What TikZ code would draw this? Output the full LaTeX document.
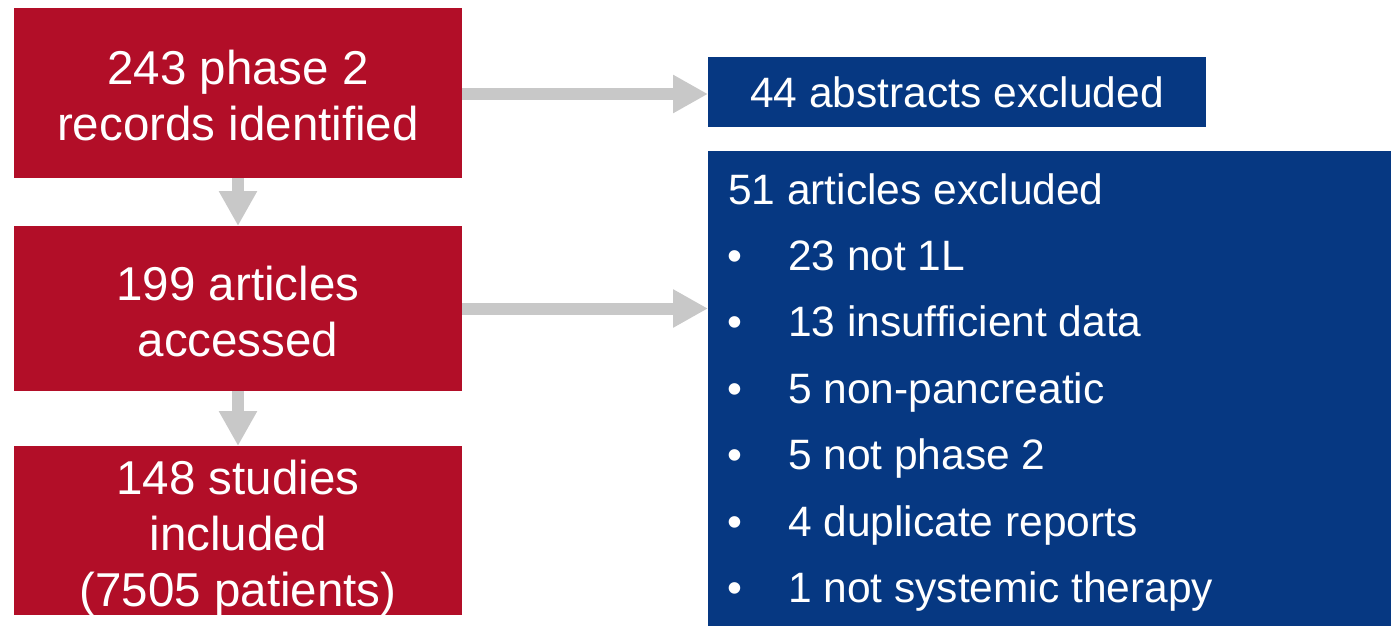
\documentclass[tikz,border=0pt]{standalone}
\usepackage{fontspec}
\setmainfont{Liberation Sans}
\usetikzlibrary{arrows.meta}
\definecolor{redbox}{HTML}{B20E28}
\definecolor{bluebox}{HTML}{063882}
\definecolor{arrowgray}{HTML}{C8C8C8}
\newcommand{\topstrut}[1]{\rule{0pt}{#1}}
\tikzset{
  redstep/.style={rectangle, fill=redbox, text=white, inner sep=0pt, outer sep=0pt,
    minimum width=448pt, align=center, font=\fontsize{47.5}{56}\selectfont},
  bluestep/.style={rectangle, fill=bluebox, text=white, inner sep=0pt, outer sep=0pt,
    font=\fontsize{42.5}{51}\selectfont},
  listtext/.style={text=white, inner sep=0pt, outer sep=0pt, font=\fontsize{42.5}{51}\selectfont},
  conn/.style={draw=arrowgray, line width=12pt, -{Triangle[width=36pt,length=35pt,fill=arrowgray]}}
}
\begin{document}
\begin{tikzpicture}[x=1pt,y=-1pt]
\useasboundingbox (0,0) rectangle (1391,626);
% red boxes
\node[redstep, minimum height=170pt] (r1) at (238,93) {\topstrut{40pt}243 phase 2\\records identified};
\node[redstep, minimum height=165pt] (r2) at (238,308.5) {\topstrut{40pt}199 articles\\accessed};
\node[redstep, minimum height=169pt, text depth=0pt] (r3) at (238,530.5) {\topstrut{39pt}148 studies\\included\\(7505 patients)};
% blue boxes
\node[bluestep, minimum width=498pt, minimum height=70pt] (b1) at (957,92) {44 abstracts excluded};
\node[bluestep, minimum width=683pt, minimum height=475pt] (b2) at (1049.5,388.5) {};
% list text
\node[listtext, anchor=base west] (h) at (728,204) {51 articles excluded};
\foreach \t [count=\i from 0] in {23 not 1L, 13 insufficient data, 5 non-pancreatic, 5 not phase 2, 4 duplicate reports, 1 not systemic therapy}{
  \node[listtext, anchor=base] (bu\i) at (735,270+66.5*\i) {•};
  \node[listtext, anchor=base west] (it\i) at (788,270+66.5*\i) {\t};
}
% connectors
\draw[conn] (r1.south) -- (r2.north);
\draw[conn] (r2.south) -- (r3.north);
\draw[conn] ([yshift=-1pt]r1.east) -- ([yshift=-1pt]r1.east -| b1.west);
\draw[conn] (r2.east) -- (r2.east -| b2.west);
\end{tikzpicture}
\end{document}
